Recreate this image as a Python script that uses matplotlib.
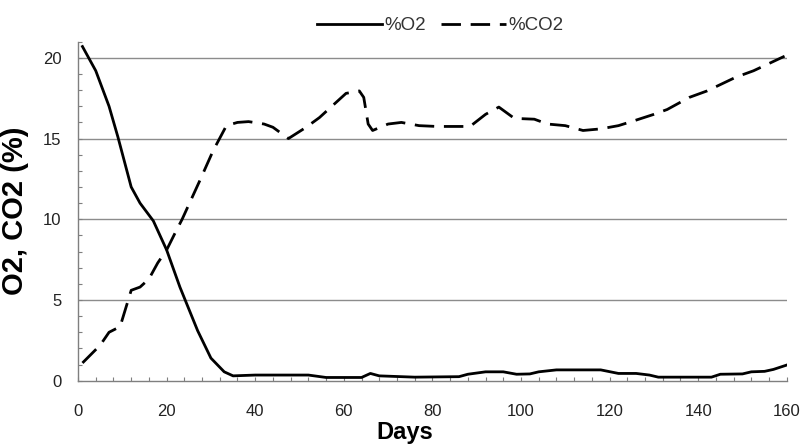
#############
# Libraries #
#############

import matplotlib
matplotlib.use("Agg")
import matplotlib.pyplot as plt
from matplotlib.ticker import MultipleLocator

########
# Data #
########

o2_days = [1, 4, 7, 9, 12, 14, 17, 20, 23, 27, 30, 33, 35, 40, 52, 56, 64, 66, 68,
           76, 86, 88, 92, 96, 99, 102, 104, 108, 118, 122, 126, 129, 131, 143,
           145, 150, 152, 155, 157, 160]
o2_values = [20.7, 19.2, 17.0, 15.1, 12.0, 11.0, 9.9, 8.1, 5.8, 3.1, 1.4, 0.55, 0.3, 0.35,
             0.35, 0.2, 0.2, 0.45, 0.3, 0.22, 0.25, 0.4, 0.55, 0.55, 0.4, 0.42, 0.55, 0.67,
             0.67, 0.45, 0.45, 0.35, 0.22, 0.22, 0.4, 0.42, 0.55, 0.58, 0.7, 0.97]

co2_days = [1, 5, 7, 9.5, 11, 12, 14, 16, 18, 20, 22, 23.5, 27.5, 30.5, 33.5, 36, 38.5,
            42, 44, 47.5, 51.5, 54.5, 60.5, 63.5, 64.5, 65.5, 66.5, 70, 73, 77, 81, 85,
            88.5, 92, 95, 98.5, 103, 106, 110, 114, 118, 122, 125.5, 130, 133, 138, 142,
            148.5, 152.5, 159.5]
co2_values = [1.1, 2.2, 3.0, 3.35, 4.7, 5.6, 5.8, 6.3, 7.3, 8.1, 9.2, 10.0, 12.4, 14.25,
              15.8, 16.0, 16.05, 15.9, 15.7, 15.0, 15.7, 16.3, 17.8, 17.95, 17.55, 15.9,
              15.5, 15.9, 16.0, 15.8, 15.75, 15.75, 15.75, 16.5, 16.95, 16.25, 16.2, 15.9,
              15.8, 15.5, 15.6, 15.8, 16.1, 16.5, 16.8, 17.55, 17.95, 18.8, 19.2, 20.1]

x_ticks = [0, 20, 40, 60, 80, 100, 120, 140, 160]
y_ticks = [0, 5, 10, 15, 20]

###########
# Program #
###########

if __name__ == '__main__':
    plt.rcParams['font.family'] = ['Liberation Sans', 'DejaVu Sans']
    plt.rcParams['lines.scale_dashes'] = False

    fig = plt.figure(figsize=(8.02, 4.46), dpi=100)
    ax = fig.add_axes([0.0973, 0.1464, 0.8837, 0.7601])

    for y in y_ticks[1:]:
        ax.axhline(y, color="#8c8c8c", lw=1.0, zorder=1)

    ax.plot(o2_days, o2_values, color="black", lw=2.0, label="%O2", zorder=3)
    ax.plot(co2_days, co2_values, color="black", lw=2.0, dashes=(14, 7),
            label="%CO2", zorder=3)

    ax.set_xlim(0, 160)
    ax.set_ylim(0, 21)
    ax.set_xticks(x_ticks)
    ax.set_yticks(y_ticks)
    ax.xaxis.set_minor_locator(MultipleLocator(4))
    ax.yaxis.set_minor_locator(MultipleLocator(1))
    ax.tick_params(which="both", direction="in", length=3, width=0.8,
                   color="#7f7f7f")
    ax.tick_params(axis="x", which="major", pad=17, labelsize=12,
                   labelcolor="#222222")
    ax.tick_params(axis="y", which="major", pad=12, labelsize=12,
                   labelcolor="#222222")

    for side in ["top", "right"]:
        ax.spines[side].set_visible(False)
    for side in ["left", "bottom"]:
        ax.spines[side].set_color("#7f7f7f")
        ax.spines[side].set_linewidth(1.0)

    ax.set_ylabel("O2, CO2 (%)", fontsize=21, fontweight="bold", labelpad=10)
    fig.text(0.505, 0.03, "Days", fontsize=17, fontweight="bold",
             ha="center", va="center")

    fig.legend(loc="center", bbox_to_anchor=(0.549, 0.942), ncol=2,
               frameon=False, fontsize=13.5, handlelength=3.45,
               handletextpad=0.15, columnspacing=0.8, labelcolor="#333333")

    fig.savefig("out.png", dpi=100)
